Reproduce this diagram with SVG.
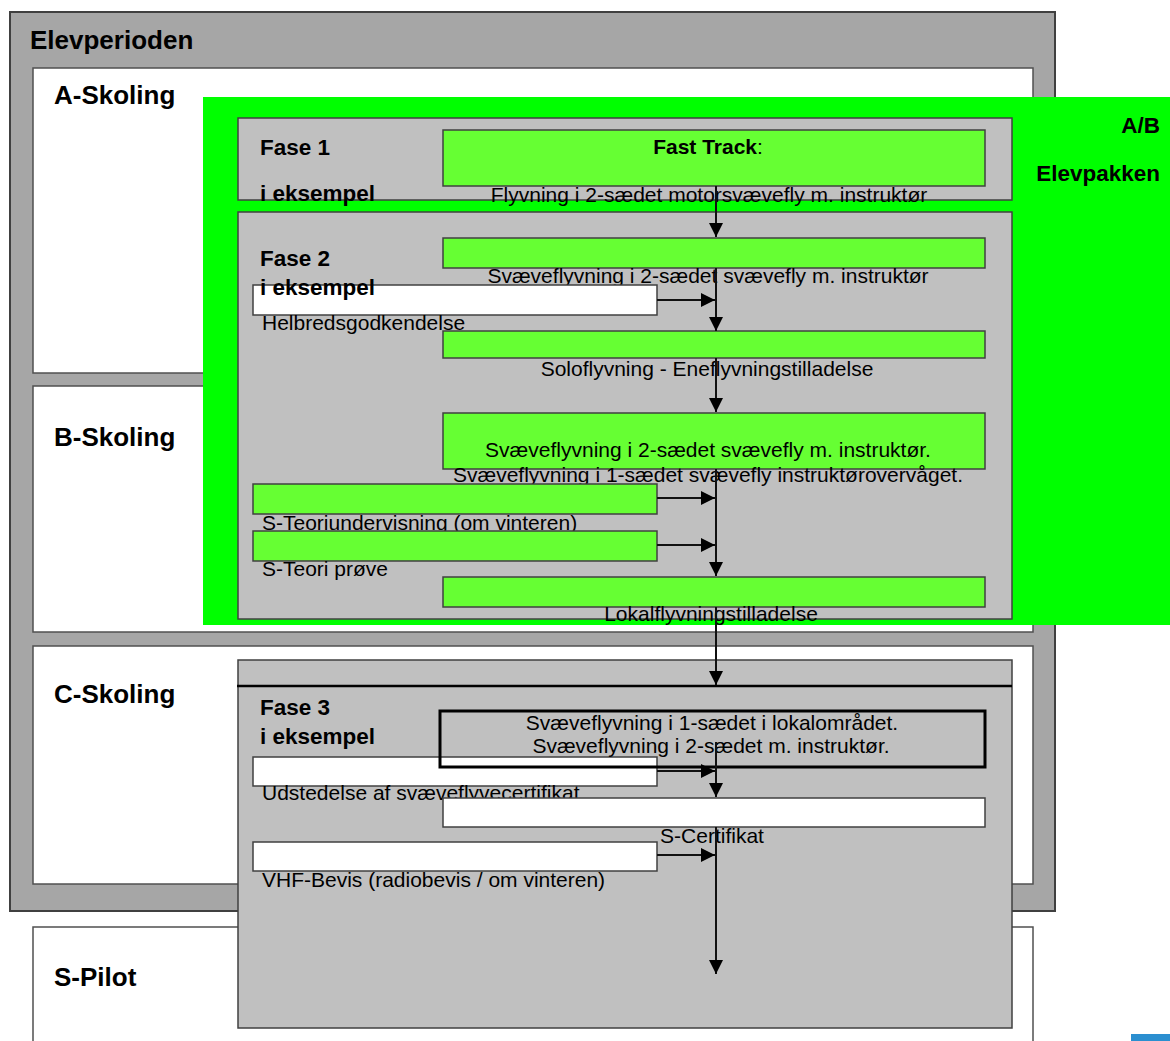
<svg xmlns="http://www.w3.org/2000/svg" width="1170" height="1041" viewBox="0 0 1170 1041">
<defs>
<marker id="ah" markerUnits="userSpaceOnUse" markerWidth="14" markerHeight="14" refX="14" refY="7" orient="auto">
<path d="M0,0 L14,7 L0,14 z" fill="#000"/>
</marker>
<style>
text{font-family:"Liberation Sans",Arial,sans-serif;fill:#000}
.big{font-size:26px;font-weight:bold}
.fase{font-size:22.5px;font-weight:bold}
.t{font-size:21px}
.tm{font-size:21px;text-anchor:middle}
.outer{fill:#a6a6a6;stroke:#404040;stroke-width:2}
.white{fill:#fff;stroke:#505050;stroke-width:1.5}
.gray{fill:#c0c0c0;stroke:#404040;stroke-width:1.5}
.lg{fill:#66ff33;stroke:#404040;stroke-width:1.5}
.wb{fill:#fff;stroke:#404040;stroke-width:1.5}
.conn line{stroke:#111;stroke-width:2;marker-end:url(#ah)}
</style>
</defs>
<rect width="1170" height="1041" fill="#fff"/>
<g id="elevperioden">
<rect class="outer" x="10" y="12" width="1045" height="899"/>
<text class="big" x="30" y="49">Elevperioden</text>
</g>
<g id="a-skoling">
<rect class="white" x="33" y="68" width="1000" height="305"/>
<text class="big" x="54" y="104">A-Skoling</text>
</g>
<g id="b-skoling">
<rect class="white" x="33" y="386" width="1000" height="246"/>
<text class="big" x="54" y="446">B-Skoling</text>
</g>
<g id="c-skoling">
<rect class="white" x="33" y="646" width="1000" height="238"/>
<text class="big" x="54" y="703">C-Skoling</text>
</g>
<g id="s-pilot">
<rect class="white" x="33" y="927" width="1000" height="130"/>
<text class="big" x="54" y="986">S-Pilot</text>
</g>
<g id="elevpakken">
<rect x="203" y="97" width="980" height="528" fill="#00ff00"/>
<text class="fase" x="1160" y="133" text-anchor="end">A/B</text>
<text class="fase" x="1160" y="181" text-anchor="end">Elevpakken</text>
</g>
<g id="fase1">
<rect class="gray" x="238" y="118" width="774" height="82"/>
</g>
<g id="fase2">
<rect class="gray" x="238" y="212" width="774" height="407"/>
</g>
<g id="fase3">
<rect class="gray" x="238" y="660" width="774" height="368"/>
<line x1="237" y1="686" x2="1012" y2="686" stroke="#000" stroke-width="2.5"/>
</g>
<g id="fast-track">
<rect class="lg" x="443" y="130" width="542" height="56"/>
<text x="708" y="154" text-anchor="middle" style="font-size:21px"><tspan font-weight="bold">Fast Track</tspan>:</text>
<text class="tm" x="709" y="202">Flyvning i 2-sædet motorsvævefly m. instruktør</text>
</g>
<g id="svaeve-2">
<rect class="lg" x="443" y="238" width="542" height="30"/>
<text class="tm" x="708" y="283">Svæveflyvning i 2-sædet svævefly m. instruktør</text>
</g>
<g id="helbred">
<rect class="wb" x="253" y="285" width="404" height="30"/>
<text class="t" x="262" y="330">Helbredsgodkendelse</text>
</g>
<g id="solo">
<rect class="lg" x="443" y="331" width="542" height="27"/>
<text class="tm" x="707" y="376">Soloflyvning - Eneflyvningstilladelse</text>
</g>
<g id="svaeve-1-2">
<rect class="lg" x="443" y="413" width="542" height="56"/>
<text class="tm" x="708" y="457">Svæveflyvning i 2-sædet svævefly m. instruktør.</text>
<text class="tm" x="708" y="482">Svæveflyvning i 1-sædet svævefly instruktørovervåget.</text>
</g>
<g id="teori">
<rect class="lg" x="253" y="484" width="404" height="30"/>
<text class="t" x="262" y="530">S-Teoriundervisning (om vinteren)</text>
</g>
<g id="teori-proeve">
<rect class="lg" x="253" y="531" width="404" height="30"/>
<text class="t" x="262" y="576">S-Teori prøve</text>
</g>
<g id="lokal">
<rect class="lg" x="443" y="577" width="542" height="30"/>
<text class="tm" x="711" y="621">Lokalflyvningstilladelse</text>
</g>
<g id="udstedelse">
<rect class="wb" x="253" y="757" width="404" height="29"/>
<text class="t" x="262" y="800">Udstedelse af svæveflyvecertifikat</text>
</g>
<g id="lokalomraade">
<rect x="440" y="711" width="545" height="56" fill="none" stroke="#000" stroke-width="3"/>
<text class="tm" x="712" y="730">Svæveflyvning i 1-sædet i lokalområdet.</text>
<text class="tm" x="711" y="753">Svæveflyvning i 2-sædet m. instruktør.</text>
</g>
<g id="s-certifikat">
<rect class="wb" x="443" y="798" width="542" height="29"/>
<text class="tm" x="712" y="843">S-Certifikat</text>
</g>
<g id="vhf">
<rect class="wb" x="253" y="842" width="404" height="29"/>
<text class="t" x="262" y="887">VHF-Bevis (radiobevis / om vinteren)</text>
</g>
<g id="labels">
<text class="fase" x="260" y="155">Fase 1</text>
<text class="fase" x="260" y="201">i eksempel</text>
<text class="fase" x="260" y="266">Fase 2</text>
<text class="fase" x="260" y="295">i eksempel</text>
<text class="fase" x="260" y="715">Fase 3</text>
<text class="fase" x="260" y="744">i eksempel</text>
</g>
<g id="connectors" class="conn">
<line x1="716" y1="186" x2="716" y2="237"/>
<line x1="716" y1="268" x2="716" y2="331"/>
<line x1="716" y1="358" x2="716" y2="412"/>
<line x1="716" y1="469" x2="716" y2="576"/>
<line x1="716" y1="607" x2="716" y2="685"/>
<line x1="716" y1="742" x2="716" y2="797"/>
<line x1="716" y1="827" x2="716" y2="974"/>
<line x1="657" y1="300" x2="715" y2="300"/>
<line x1="657" y1="498" x2="715" y2="498"/>
<line x1="657" y1="545" x2="715" y2="545"/>
<line x1="657" y1="771" x2="715" y2="771"/>
<line x1="657" y1="855" x2="715" y2="855"/>
</g>
<rect x="1131" y="1034" width="39" height="7" fill="#2b8fd0"/>
</svg>
